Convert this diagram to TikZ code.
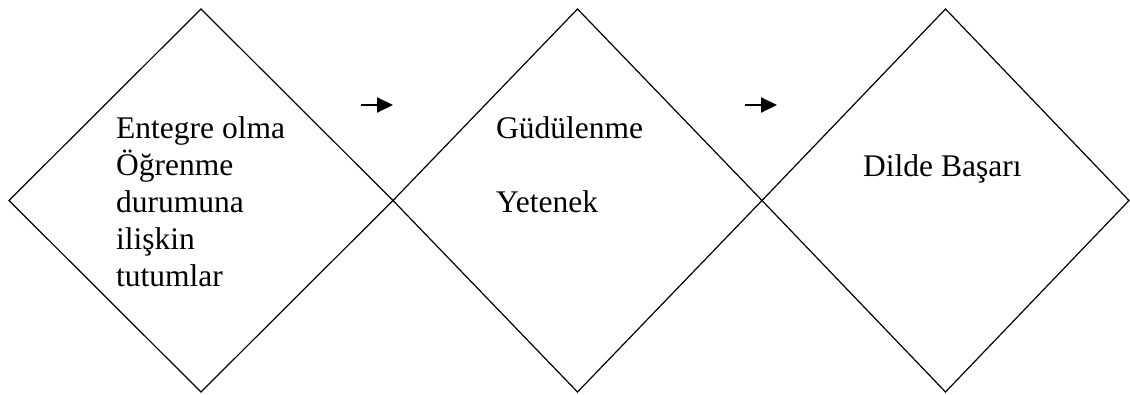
\documentclass[tikz,border=0pt]{standalone}
\usepackage{fontspec}
\setmainfont{Liberation Serif}
\usetikzlibrary{shapes.geometric,arrows.meta}
\begin{document}
\begin{tikzpicture}[x=1pt,y=-1pt,
  dia/.style={draw,line width=1.2pt,shape=diamond,inner sep=0pt,outer sep=0pt},
  lbl/.style={anchor=base west,inner sep=0pt,font=\fontsize{31.5}{37}\selectfont,align=left},
  flow/.style={line width=2pt,-{Triangle[length=16pt,width=15pt]}}]
\useasboundingbox (0,0) rectangle (1130,394);
\node[dia,minimum width=384pt,minimum height=383pt] (d1) at (201,200.5) {};
\node[dia,minimum width=369pt,minimum height=383pt] (d2) at (577.5,200.5) {};
\node[dia,minimum width=367pt,minimum height=383pt] (d3) at (945.5,200.5) {};
\node[lbl] (t1) at (116,286) {Entegre olma\\Öğrenme\\durumuna\\ilişkin\\tutumlar};
\node[lbl] (t2) at (496,212) {Güdülenme\\[37pt]Yetenek};
\node[lbl] (t3) at (863,176) {Dilde Başarı};
\coordinate (a1s) at (361,105);
\coordinate (a1e) at (393,105);
\coordinate (a2s) at (745,105);
\coordinate (a2e) at (777,105);
\draw[flow] (a1s) -- (a1e);
\draw[flow] (a2s) -- (a2e);
\end{tikzpicture}
\end{document}
